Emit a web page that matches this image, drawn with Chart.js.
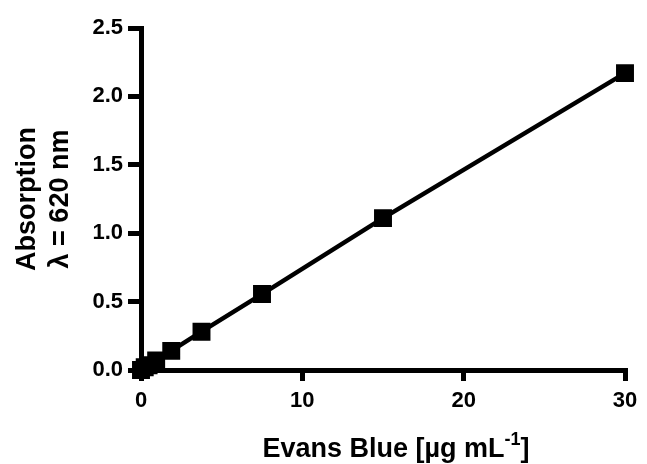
<!DOCTYPE html>
<html>
<head>
<meta charset="utf-8">
<script src="https://cdn.jsdelivr.net/npm/chart.js@4"></script>
<style>
  html, body { margin: 0; padding: 0; background: #fff; }
  #wrap { width: 647px; height: 464px; }
</style>
</head>
<body>
<div id="wrap"><canvas id="grafico"></canvas></div>
<script>
// concentração (µg/mL) e absorção a 620 nm
const concentracao = [0, 0.23, 0.47, 0.94, 1.875, 3.75, 7.5, 15, 30];
const absorcao = [0.0, 0.02, 0.035, 0.07, 0.14, 0.28, 0.555, 1.11, 2.17];
const xTicks = [0, 10, 20, 30];
const yTicks = [0, 0.5, 1.0, 1.5, 2.0, 2.5];

const FONTE = "'Liberation Sans', Arial, sans-serif";

// título do eixo x com expoente
const tituloX = {
  id: "tituloX",
  afterDraw(chart) {
    const ctx = chart.ctx;
    const partes = [
      { t: "Evans Blue [µg mL", sup: false },
      { t: "-1", sup: true },
      { t: "]", sup: false }
    ];
    ctx.save();
    ctx.fillStyle = "#000";
    ctx.textBaseline = "alphabetic";
    let total = 0;
    partes.forEach(p => {
      ctx.font = "bold " + (p.sup ? 18 : 27) + "px " + FONTE;
      p.w = ctx.measureText(p.t).width;
      total += p.w;
    });
    let x = 396 - total / 2;
    const base = 457;
    partes.forEach(p => {
      ctx.font = "bold " + (p.sup ? 18 : 27) + "px " + FONTE;
      ctx.fillText(p.t, x, p.sup ? base - 12 : base);
      x += p.w;
    });
    ctx.restore();
  }
};

new Chart(document.getElementById("grafico"), {
  type: "scatter",
  data: {
    datasets: [{
      data: concentracao.map((c, i) => ({ x: c, y: absorcao[i] })),
      showLine: true,
      borderColor: "#000",
      backgroundColor: "#000",
      borderWidth: 4.5,
      pointStyle: "rect",
      pointRadius: 9.5,
      pointHoverRadius: 9.5,
      clip: false
    }]
  },
  options: {
    responsive: true,
    maintainAspectRatio: false,
    animation: false,
    layout: { padding: { left: 0, right: 22, top: 28, bottom: 0 } },
    plugins: { legend: { display: false }, tooltip: { enabled: false } },
    scales: {
      x: {
        type: "linear",
        min: 0,
        max: 30,
        afterFit: s => { s.height = 94; },
        afterBuildTicks: s => { s.ticks = xTicks.map(v => ({ value: v })); },
        border: { display: true, color: "#000", width: 5 },
        grid: { drawOnChartArea: false, drawTicks: true, tickLength: 11, color: "#000", lineWidth: 5 },
        ticks: { color: "#000", padding: 7, font: { family: FONTE, size: 22, weight: "bold" } }
      },
      y: {
        type: "linear",
        min: 0,
        max: 2.5,
        afterFit: s => { s.width = 141; },
        afterBuildTicks: s => { s.ticks = yTicks.map(v => ({ value: v })); },
        border: { display: true, color: "#000", width: 5 },
        grid: { drawOnChartArea: false, drawTicks: true, tickLength: 13, color: "#000", lineWidth: 5 },
        ticks: {
          color: "#000",
          padding: 5,
          font: { family: FONTE, size: 22, weight: "bold" },
          callback: v => v.toFixed(1)
        },
        title: {
          display: true,
          text: ["Absorption", "λ = 620 nm"],
          color: "#000",
          font: { family: FONTE, size: 27, weight: "bold", lineHeight: 1.22 },
          padding: { top: 11, bottom: 0 }
        }
      }
    }
  },
  plugins: [tituloX]
});
</script>
</body>
</html>
